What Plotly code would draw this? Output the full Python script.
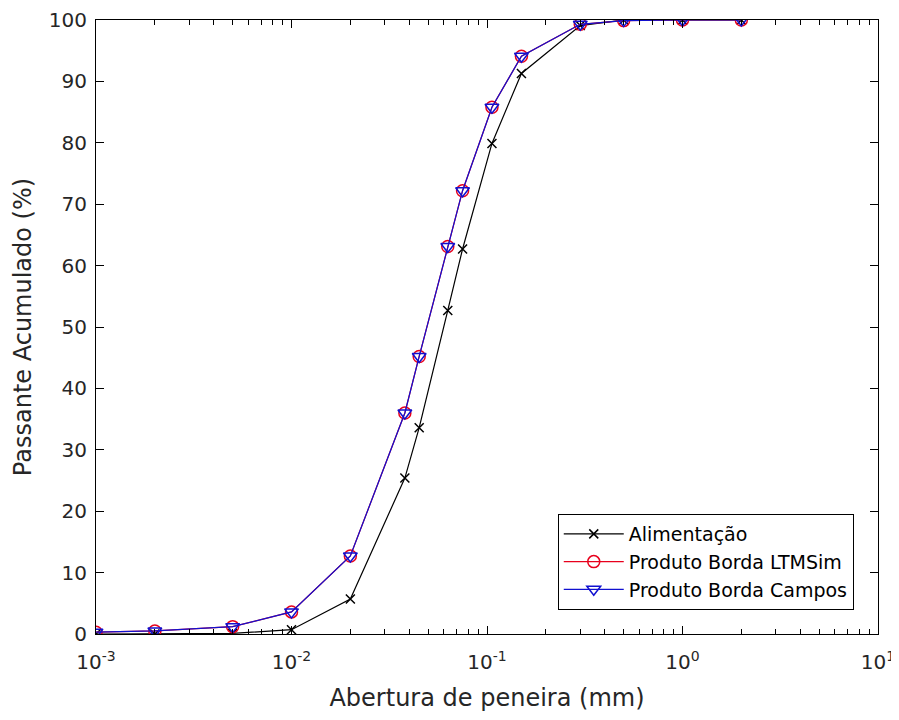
import plotly.graph_objects as go

abertura = [0.001, 0.002, 0.005, 0.01, 0.02, 0.038, 0.045, 0.063, 0.075, 0.106, 0.15, 0.3, 0.5, 1, 2]
alimentacao = [0.0, 0.0, 0.1, 0.7, 5.7, 25.4, 33.6, 52.7, 62.7, 79.9, 91.3, 99.1, 100, 100, 100]
ltmsim = [0.3, 0.5, 1.2, 3.6, 12.7, 36.0, 45.2, 63.1, 72.2, 85.8, 94.1, 99.3, 99.9, 100, 100]
campos = [0.3, 0.5, 1.2, 3.6, 12.7, 36.0, 45.2, 63.1, 72.2, 85.8, 94.1, 99.3, 99.9, 100, 100]

x_major = [1e-3, 1e-2, 1e-1, 1e0, 1e1]
x_major_text = ["10<sup>-3</sup>", "10<sup>-2</sup>", "10<sup>-1</sup>", "10<sup>0</sup>", "10<sup>1</sup>"]
x_minor = [m * 10 ** e for e in range(-3, 1) for m in range(2, 10)]
y_ticks = list(range(0, 101, 10))

font_family = "DejaVu Sans, Arial, sans-serif"
txt = "#262626"

fig = go.Figure()
fig.add_trace(go.Scatter(
    x=abertura, y=alimentacao, name="Alimentação", mode="lines+markers",
    line=dict(color="black", width=1.2),
    marker=dict(symbol="x-thin-open", size=9, line=dict(color="black", width=1.5)),
))
fig.add_trace(go.Scatter(
    x=abertura, y=ltmsim, name="Produto Borda LTMSim", mode="lines+markers",
    line=dict(color="#e8001c", width=1.2),
    marker=dict(symbol="circle-open", size=12, color="#e8001c", line=dict(width=1.5)),
))
fig.add_trace(go.Scatter(
    x=abertura, y=campos, name="Produto Borda Campos", mode="lines+markers",
    line=dict(color="#1010d0", width=1.2),
    marker=dict(symbol="triangle-down-open", size=12, color="#1010d0", line=dict(width=1.5)),
))

fig.update_layout(
    width=891, height=712,
    paper_bgcolor="white", plot_bgcolor="white",
    margin=dict(l=88, r=21, t=12, b=86, autoexpand=False),
    font=dict(family=font_family, color=txt, size=18),
    showlegend=True,
    legend=dict(
        x=0.969, y=0.039, xanchor="right", yanchor="bottom",
        bgcolor="white", bordercolor="black", borderwidth=1,
        font=dict(size=19, color="black"), itemwidth=60,
        tracegroupgap=0,
    ),
    xaxis=dict(
        type="log", range=[-3, 1], automargin=False,
        tickmode="array", tickvals=x_major, ticktext=x_major_text,
        ticks="inside", ticklen=8, tickwidth=1, tickcolor="black",
        showline=True, linecolor="black", linewidth=1, mirror="allticks",
        showgrid=False, zeroline=False, ticklabelstandoff=10,
        tickfont=dict(size=20, color=txt),
        minor=dict(tickmode="array", tickvals=x_minor, ticks="inside", ticklen=5,
                   tickcolor="black", tickwidth=1, showgrid=False),
        title=dict(text="Abertura de peneira (mm)", font=dict(size=24, color=txt), standoff=16),
    ),
    yaxis=dict(
        range=[0, 100], automargin=False,
        tickmode="array", tickvals=y_ticks,
        ticks="inside", ticklen=8, tickwidth=1, tickcolor="black",
        showline=True, linecolor="black", linewidth=1, mirror="allticks",
        showgrid=False, zeroline=False, ticklabelstandoff=4,
        tickfont=dict(size=20, color=txt),
        title=dict(text="Passante Acumulado (%)", font=dict(size=24, color=txt), standoff=10),
    ),
)

fig.write_html("out.html")
